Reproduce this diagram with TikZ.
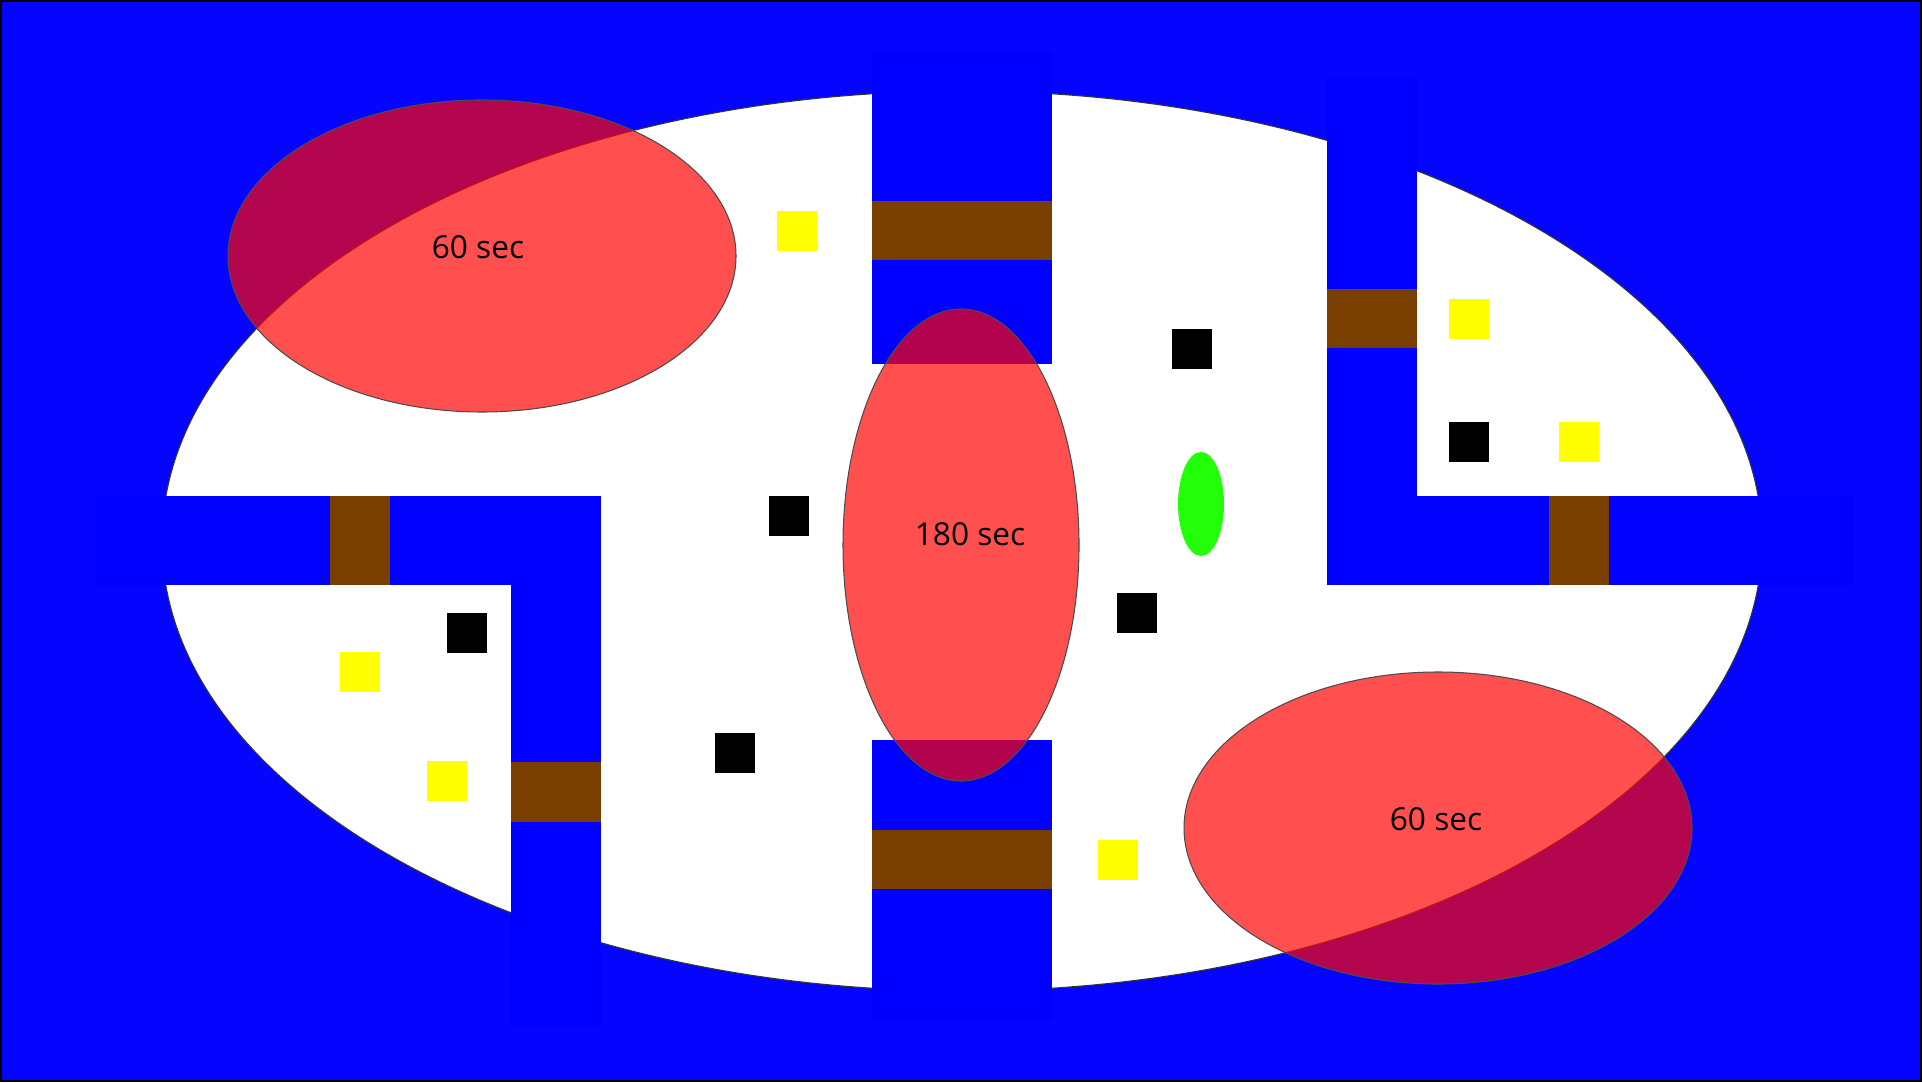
\documentclass[tikz,border=0pt]{standalone}
\usepackage{fontspec}
\newfontfamily\zonefont{Open Sans}
\newcommand{\zonelabel}{\zonefont\fontsize{9pt}{10pt}\selectfont}
\definecolor{seablue}{RGB}{5,5,255}
\definecolor{wallblue}{RGB}{0,0,255}
\definecolor{doorbrown}{RGB}{120,63,0}
\definecolor{coinyellow}{RGB}{255,255,0}
\definecolor{goalgreen}{RGB}{34,255,8}
\definecolor{zonered}{RGB}{255,5,5}
\begin{document}
\begin{tikzpicture}[x=0.1mm,y=-0.1mm,every node/.style={font=\zonelabel},
  wall/.style={fill=wallblue},
  door/.style={fill=doorbrown},
  coin/.style={fill=coinyellow},
  rock/.style={fill=black},
  zone/.style={fill=zonered,fill opacity=0.7,draw=black!70,line width=0.3pt}]
\useasboundingbox (0,0) rectangle (1922,1082);
% sea and island
\fill[seablue] (0,0) rectangle (1922,1082);
\draw[black,line width=0.4pt] (1,1) rectangle (1921,1081);
\filldraw[fill=white,draw=black!80,line width=0.3pt] (962,541) ellipse [x radius=800,y radius=450];
% walls
\fill[wall] (872,52) rectangle (1052,364);
\fill[wall] (872,740) rectangle (1052,1020);
\fill[wall] (1327,78) rectangle (1417,585);
\fill[wall] (1327,496) rectangle (1853,585);
\fill[wall] (96,496) rectangle (601,585);
\fill[wall] (511,496) rectangle (601,1025);
% doors
\fill[door] (872,201) rectangle (1052,260);
\fill[door] (872,830) rectangle (1052,889);
\fill[door] (1327,289) rectangle (1417,348);
\fill[door] (1549,496) rectangle (1609,585);
\fill[door] (330,496) rectangle (390,585);
\fill[door] (511,762) rectangle (601,822);
% coins
\foreach \x/\y in {777/211,1449/299,1559/422,340/652,427/761,1098/840}
  \fill[coin] (\x,\y) rectangle ++(40,40);
% rocks
\foreach \x/\y in {1172/329,1449/422,769/496,447/613,1117/593,715/733}
  \fill[rock] (\x,\y) rectangle ++(40,40);
% goal
\fill[goalgreen] (1201,504) ellipse [x radius=23,y radius=52];
% timed zones
\draw[zone] (482,256) ellipse [x radius=254,y radius=156];
\draw[zone] (961,545) ellipse [x radius=118,y radius=236];
\draw[zone] (1438,828) ellipse [x radius=254,y radius=156];
\node[anchor=base] (zonea) at (478,259) {60 sec};
\node[anchor=base] (zoneb) at (970,545) {180 sec};
\node[anchor=base] (zonec) at (1436,830) {60 sec};
\end{tikzpicture}
\end{document}
